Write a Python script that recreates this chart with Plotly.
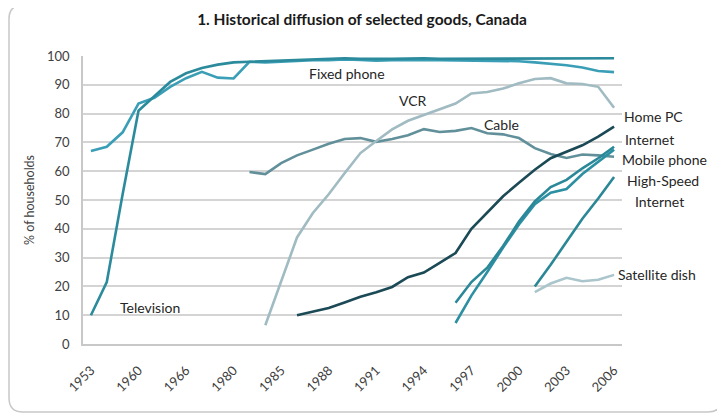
import plotly.graph_objects as go

# ---------------- data ----------------
years = ["1953", "1954", "1956", "1960", "1962", "1964", "1966", "1970", "1975", "1980",
         "1982", "1983", "1985", "1986", "1987", "1988", "1989", "1990", "1991", "1992",
         "1993", "1994", "1995", "1996", "1997", "1998", "1999", "2000", "2001", "2002",
         "2003", "2004", "2005", "2006"]
tick_labels = ["1953", "1960", "1966", "1980", "1985", "1988", "1991", "1994",
               "1997", "2000", "2003", "2006"]

N = None
television = [10, 21.5, 52, 81, 86, 91, 94, 95.8, 97, 97.8,
              98, 98.2, 98.4, 98.6, 98.8, 99, 99.2, 99, 98.9, 99,
              99.1, 99.2, 99, 99, 99.1, 99.2, 99.2, 99.2, 99.2, 99.2,
              99.2, 99.2, 99.2, 99.2]
fixed_phone = [67, 68.5, 73.5, 83.5, 85.5, 89.3, 92.3, 94.5, 92.5, 92.2,
               98, 97.8, 98, 98.3, 98.5, 98.5, 98.8, 98.6, 98.4, 98.5,
               98.6, 98.6, 98.5, 98.4, 98.5, 98.4, 98.3, 98.2, 97.8, 97.4,
               96.8, 96, 94.8, 94.4]
cable = [N, N, N, N, N, N, N, N, N, N,
         59.7, 59, 62.8, 65.5, 67.5, 69.5, 71.2, 71.5, 70.2, 71.2,
         72.5, 74.6, 73.6, 74, 75, 73.2, 72.8, 71.5, 68, 66,
         64.6, 65.8, 65.5, 65]
vcr = [N, N, N, N, N, N, N, N, N, N,
       N, 6.5, 22, 37, 45.5, 52, 59.3, 66.3, 70.5, 74.5,
       77.5, 79.5, 81.5, 83.5, 87, 87.5, 88.7, 90.5, 92, 92.3,
       90.5, 90.3, 89.3, 82]
home_pc = [N, N, N, N, N, N, N, N, N, N,
           N, N, N, 10, 11.3, 12.5, 14.4, 16.4, 18, 19.8,
           23.2, 24.8, 28.2, 31.6, 40, 45.8, 51.3, 56, 60.5, 64.5,
           66.7, 69, 72, 75.5]
mobile_phone = [N, N, N, N, N, N, N, N, N, N,
                N, N, N, N, N, N, N, N, N, N,
                N, N, N, 14.3, 21.5, 26.5, 34, 42.5, 49.5, 54.5,
                57, 61, 64.5, 68.5]
internet = [N, N, N, N, N, N, N, N, N, N,
            N, N, N, N, N, N, N, N, N, N,
            N, N, N, 7.3, 16.8, 25, 33.5, 41.5, 48.5, 52.5,
            53.8, 59, 63.3, 67.5]
high_speed = [N, N, N, N, N, N, N, N, N, N,
              N, N, N, N, N, N, N, N, N, N,
              N, N, N, N, N, N, N, N, 20, 27.5,
              35.5, 43.5, 50.5, 58]
satellite = [N, N, N, N, N, N, N, N, N, N,
             N, N, N, N, N, N, N, N, N, N,
             N, N, N, N, N, N, N, N, 18, 21,
             23, 21.8, 22.3, 24]

series = [
    ("Fixed phone", fixed_phone, "#3A9EB6"),
    ("Television", television, "#2B8B9C"),
    ("Cable", cable, "#62909A"),
    ("VCR", vcr, "#A0BBC2"),
    ("Satellite dish", satellite, "#AAC5CB"),
    ("Home PC", home_pc, "#1B4A56"),
    ("High-Speed Internet", high_speed, "#2A8796"),
    ("Internet", internet, "#2C8FA2"),
    ("Mobile phone", mobile_phone, "#2A8898"),
]

# ---------------- layout geometry (pixels, in the 725x420 page) ----------------
OFF = 8  # default page body margin
W, H = 725 - OFF, 420 - OFF
L, R, T, B = 83 - OFF, 622 - OFF, 56 - OFF, 344 - OFF


def px(x):
    return (x - OFF - L) / (R - L)


def py(y):
    return (B - (y - OFF)) / (B - T)


fig = go.Figure()
for name, vals, col in series:
    fig.add_trace(go.Scatter(x=years, y=vals, mode="lines", name=name,
                             line=dict(color=col, width=2.6),
                             connectgaps=False, showlegend=False))

font_family = "Lato, 'Open Sans', sans-serif"

labels = [
    ("Fixed phone", 307, 73),
    ("VCR", 397, 100),
    ("Cable", 482, 124),
    ("Home PC", 622, 116),
    ("Internet", 623, 139),
    ("Mobile phone", 620, 159),
    ("High-Speed", 625, 180),
    ("Internet", 633, 201),
    ("Satellite dish", 616, 274),
    ("Television", 118, 307),
]
annotations = []
for txt, x, y in labels:
    annotations.append(dict(text=txt, x=px(x), y=py(y), xref="paper", yref="paper",
                            xanchor="left", yanchor="middle", showarrow=False,
                            font=dict(size=14, color="#262626", family=font_family)))

# rounded frame
x0, y0, x1, y1, r = 9, 5, 722, 412, 14
path = (f"M {px(x0 + r)},{py(y0)} L {px(x1 - r)},{py(y0)} "
        f"Q {px(x1)},{py(y0)} {px(x1)},{py(y0 + r)} "
        f"L {px(x1)},{py(y1 - r)} Q {px(x1)},{py(y1)} {px(x1 - r)},{py(y1)} "
        f"L {px(x0 + r)},{py(y1)} Q {px(x0)},{py(y1)} {px(x0)},{py(y1 - r)} "
        f"L {px(x0)},{py(y0 + r)} Q {px(x0)},{py(y0)} {px(x0 + r)},{py(y0)} Z")

fig.update_layout(
    width=W, height=H,
    margin=dict(l=L, r=W - R, t=T, b=H - B, pad=0),
    paper_bgcolor="white", plot_bgcolor="white",
    font=dict(family=font_family, size=13, color="#404040"),
    title=dict(text="<b>1. Historical diffusion of selected goods, Canada</b>",
               x=(362 - OFF) / W, xanchor="center", y=1 - (20 - OFF) / H, yanchor="middle",
               font=dict(size=15.5, color="#1A1A1A", family=font_family)),
    annotations=annotations,
    shapes=[dict(type="path", path=path, xref="paper", yref="paper",
                 line=dict(color="#C8C8C8", width=1.5), layer="below")],
    xaxis=dict(type="category", categoryorder="array", categoryarray=years,
               range=[-0.5, len(years) - 0.5],
               tickmode="array", tickvals=tick_labels, ticktext=tick_labels,
               tickangle=-45, showgrid=False, showline=True,
               linecolor="#C8C8C8", linewidth=1.5, ticks="",
               ticklabelstandoff=12,
               tickfont=dict(size=13, color="#404040")),
    yaxis=dict(range=[0, 100], tickmode="linear", tick0=0, dtick=10,
               showgrid=True, gridcolor="#D4D4D4", gridwidth=1.5,
               showline=True, linecolor="#C8C8C8", linewidth=1.5,
               zeroline=False, ticks="", ticklabelstandoff=9,
               tickfont=dict(size=13, color="#404040"),
               title=dict(text="% of households", standoff=10,
                          font=dict(size=12.5, color="#404040"))),
)

fig.write_html("out.html")
